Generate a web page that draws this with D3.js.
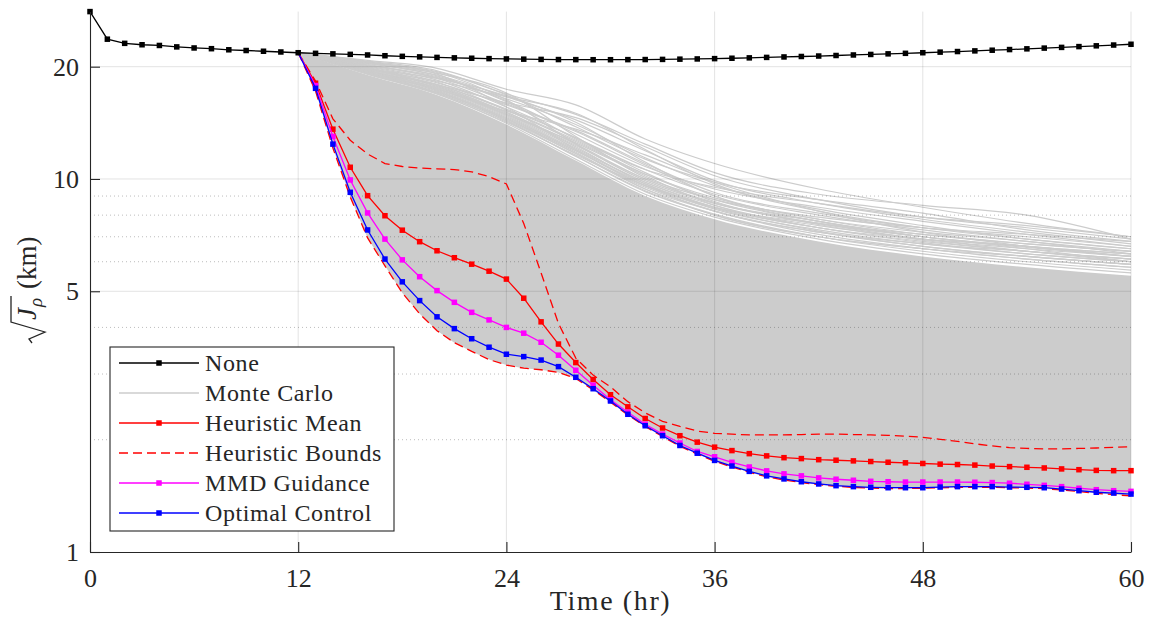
<!DOCTYPE html>
<html>
<head>
<meta charset="utf-8">
<script src="https://cdn.jsdelivr.net/npm/d3@7"></script>
<style>
  body { margin: 0; background: #fff; }
  svg { display: block; }
  svg text { font-family: "Liberation Serif", "DejaVu Serif", "Noto Serif", "Times New Roman", Times, serif; fill: #262626; }
</style>
</head>
<body>
<div id="chart"></div>
<script>
// ---- data ----
const noneHours = d3.range(0, 61);
const noneVals = [28.1, 23.7, 23.1, 22.9, 22.8, 22.6, 22.45, 22.35, 22.2, 22.1, 22.0, 21.9, 21.8,
  21.72, 21.65, 21.58, 21.5, 21.4, 21.32, 21.25, 21.18, 21.12, 21.07, 21.02, 20.98, 20.95, 20.92,
  20.9, 20.89, 20.88, 20.88, 20.89, 20.9, 20.92, 20.95, 20.98, 21.02, 21.07, 21.12, 21.18, 21.24,
  21.3, 21.36, 21.43, 21.5, 21.57, 21.65, 21.72, 21.8, 21.88, 21.96, 22.05, 22.14, 22.23, 22.33,
  22.43, 22.53, 22.64, 22.75, 22.86, 22.97];

const ctlHours = d3.range(12, 61);
const meanVals = [21.8, 18.06, 13.6, 10.75, 9.02, 7.97, 7.29, 6.79, 6.42, 6.15, 5.91, 5.66, 5.39,
  4.79, 4.14, 3.61, 3.22, 2.9, 2.64, 2.45, 2.28, 2.15, 2.05, 1.97, 1.91, 1.87, 1.835, 1.81, 1.79,
  1.78, 1.768, 1.762, 1.755, 1.748, 1.74, 1.734, 1.727, 1.72, 1.716, 1.71, 1.7, 1.694, 1.687, 1.68,
  1.67, 1.662, 1.655, 1.652, 1.652];
const mmdVals = [21.8, 17.8, 13.0, 9.94, 8.11, 6.9, 6.07, 5.47, 5.02, 4.67, 4.39, 4.19, 4.0,
  3.86, 3.65, 3.37, 3.07, 2.8, 2.56, 2.37, 2.2, 2.07, 1.96, 1.86, 1.8, 1.74, 1.69, 1.65, 1.62,
  1.6, 1.58, 1.567, 1.557, 1.547, 1.543, 1.54, 1.54, 1.54, 1.54, 1.538, 1.535, 1.529, 1.519, 1.509,
  1.497, 1.482, 1.469, 1.46, 1.454];
const ocVals = [21.8, 17.5, 12.4, 9.21, 7.3, 6.1, 5.3, 4.72, 4.27, 3.97, 3.73, 3.54, 3.39,
  3.34, 3.27, 3.14, 2.94, 2.74, 2.54, 2.34, 2.18, 2.05, 1.93, 1.84, 1.76, 1.7, 1.645, 1.6, 1.57,
  1.543, 1.522, 1.506, 1.497, 1.491, 1.487, 1.487, 1.487, 1.493, 1.497, 1.497, 1.497, 1.493, 1.491,
  1.487, 1.475, 1.46, 1.446, 1.439, 1.43];
const boundUpper = [21.8, 18.3, 14.5, 12.7, 11.67, 11.0, 10.8, 10.7, 10.65, 10.6, 10.45, 10.15, 9.7,
  7.6, 5.6, 4.1, 3.31, 2.98, 2.77, 2.53, 2.36, 2.24, 2.17, 2.11, 2.08, 2.07, 2.06, 2.06, 2.06,
  2.065, 2.07, 2.07, 2.065, 2.06, 2.055, 2.045, 2.03, 2.005, 1.98, 1.95, 1.925, 1.905, 1.895, 1.89,
  1.89, 1.895, 1.9, 1.908, 1.915];
const boundLower = [21.8, 17.2, 12.1, 8.95, 6.95, 5.85, 4.95, 4.35, 3.92, 3.64, 3.45, 3.28, 3.17,
  3.11, 3.08, 3.03, 2.92, 2.72, 2.52, 2.33, 2.17, 2.04, 1.92, 1.83, 1.75, 1.69, 1.635, 1.59, 1.56,
  1.535, 1.515, 1.5, 1.49, 1.483, 1.48, 1.48, 1.482, 1.486, 1.49, 1.49, 1.49, 1.487, 1.484, 1.478,
  1.467, 1.452, 1.437, 1.425, 1.413];

// Monte Carlo runs, sampled at these hours; mcCore = top of the densely packed runs
const mcHours = [12, 16, 20, 24, 28, 32, 36, 42, 48, 54, 60];
const mcCore = [21.8, 19.0, 16.8, 14.0, 11.2, 9.0, 7.8, 6.8, 6.2, 5.8, 5.5];
const mcRuns = [
  [21.8, 20.8, 19.8, 17.4, 15.8, 12.8, 11.0, 9.4, 8.4, 7.6, 7.0],
  [21.8, 20.6, 19.4, 16.9, 14.9, 12.4, 10.4, 9.1, 8.5, 8.0, 6.9],
  [21.8, 20.7, 19.5, 16.8, 13.8, 11.3, 9.8, 8.8, 8.1, 7.3, 6.8],
  [21.8, 20.4, 19.0, 16.6, 14.4, 11.9, 9.9, 8.6, 7.8, 7.2, 6.7],
  [21.8, 20.5, 18.9, 16.2, 13.2, 10.8, 9.4, 8.4, 7.7, 7.1, 6.6],
  [21.8, 20.2, 18.7, 16.4, 14.0, 11.4, 9.6, 8.3, 7.5, 6.9, 6.5],
  [21.8, 20.3, 18.6, 15.9, 13.5, 11.0, 9.2, 8.1, 7.4, 7.0, 6.6],
  [21.8, 20.1, 18.4, 15.6, 12.9, 10.6, 9.1, 8.0, 7.3, 6.8, 6.4],
  [21.8, 19.9, 18.1, 15.8, 13.4, 10.9, 9.0, 7.8, 7.1, 6.7, 6.4],
  [21.8, 20.0, 18.2, 15.3, 12.6, 10.3, 8.9, 7.8, 7.2, 6.8, 6.3],
  [21.8, 19.8, 17.9, 15.4, 12.9, 10.4, 8.7, 7.6, 7.0, 6.6, 6.3],
  [21.8, 19.7, 17.8, 15.1, 12.3, 10.0, 8.6, 7.6, 6.9, 6.5, 6.2],
  [21.8, 19.9, 17.7, 14.9, 12.5, 10.2, 8.5, 7.4, 6.9, 6.6, 6.2],
  [21.8, 19.6, 17.5, 14.8, 12.0, 9.8, 8.4, 7.4, 6.8, 6.4, 6.1],
  [21.8, 19.5, 17.6, 15.0, 12.2, 9.7, 8.3, 7.3, 6.7, 6.4, 6.1],
  [21.8, 19.4, 17.3, 14.6, 11.9, 9.6, 8.2, 7.2, 6.7, 6.3, 6.0],
  [21.8, 19.6, 17.2, 14.4, 11.7, 9.5, 8.2, 7.2, 6.6, 6.2, 5.9],
  [21.8, 19.3, 17.1, 14.5, 11.8, 9.4, 8.0, 7.0, 6.5, 6.2, 5.9],
  [21.8, 19.2, 17.0, 14.3, 11.5, 9.3, 8.0, 7.0, 6.5, 6.1, 5.8],
  [21.8, 20.4, 19.2, 17.0, 13.0, 10.1, 8.8, 7.9, 7.4, 7.1, 6.8],
  [21.8, 19.5, 17.9, 16.0, 14.6, 12.2, 10.2, 8.8, 7.9, 7.4, 6.9],
  [21.8, 20.6, 19.1, 15.6, 12.0, 9.7, 8.4, 7.6, 7.1, 6.7, 6.4],
  [21.8, 19.7, 18.3, 16.6, 15.0, 12.0, 9.7, 8.2, 7.4, 6.9, 6.5],
  [21.8, 20.2, 18.8, 16.1, 12.8, 10.6, 9.5, 8.6, 7.9, 7.5, 7.0],
  [21.8, 19.3, 17.4, 15.2, 13.6, 11.6, 9.8, 8.2, 7.2, 6.6, 6.2],
  [21.8, 20.5, 19.3, 16.3, 12.4, 9.9, 8.6, 7.7, 7.0, 6.5, 6.0],
  [21.8, 19.8, 18.6, 16.7, 14.2, 11.1, 9.0, 7.7, 7.0, 6.6, 6.3],
  [21.8, 19.1, 16.9, 14.2, 11.6, 9.6, 8.4, 7.5, 6.9, 6.4, 6.0],
  [21.8, 19.1, 16.9, 14.1, 11.3, 9.1, 7.9, 6.9, 6.3, 5.9, 5.6],
  [21.8, 19.2, 17.0, 14.3, 11.5, 9.25, 8.05, 7.0, 6.4, 6.0, 5.7],
  [21.8, 19.3, 17.2, 14.5, 11.7, 9.4, 8.2, 7.1, 6.5, 6.1, 5.8],
  [21.8, 19.4, 17.4, 14.7, 11.9, 9.6, 8.35, 7.25, 6.6, 6.2, 5.9],
  [21.8, 19.5, 17.5, 14.9, 12.1, 9.8, 8.5, 7.4, 6.75, 6.3, 6.0],
  [21.8, 19.6, 17.7, 15.1, 12.4, 10.0, 8.65, 7.55, 6.85, 6.4, 6.1],
  [21.8, 19.7, 17.9, 15.3, 12.7, 10.3, 8.8, 7.7, 7.0, 6.55, 6.2]
];

const xTicks = [0, 12, 24, 36, 48, 60];
const yTicks = [1, 5, 10, 20];
const yMinor = [2, 3, 4, 6, 7, 8, 9];

const legendNames = ["None", "Monte Carlo", "Heuristic Mean", "Heuristic Bounds", "MMD Guidance", "Optimal Control"];

// ---- layout ----
const CONFIGS = {
  width: 1153,
  height: 630,
  left: 90,
  right: 1131,
  top: 11.6,
  bottom: 552,
  ink: "#262626",
  mc: "#cccccc",
  lw: 1.3,
  marker: 5.5,
  legend: { x: 110, y: 347, w: 284, h: 184, row: 30, first: 363 }
};

const svg = d3.select("#chart").append("svg")
  .attr("width", CONFIGS.width)
  .attr("height", CONFIGS.height)
  .attr("viewBox", [0, 0, CONFIGS.width, CONFIGS.height]);

const x = d3.scaleLinear().domain([0, 60]).range([CONFIGS.left, CONFIGS.right]);
const y = d3.scaleLog().domain([1, d3.max(noneVals)]).range([CONFIGS.bottom, CONFIGS.top]);

const series = (hours, vals) => hours.map((h, i) => [h, vals[i]]);
const line = d3.line().x(d => x(d[0])).y(d => y(d[1]));
const smooth = d3.line().x(d => x(d[0])).y(d => y(d[1])).curve(d3.curveMonotoneX);

// ---- Monte Carlo ----
const mc = svg.append("g");
const coreTop = smooth(series(mcHours, mcCore));
const coreBot = line(series(ctlHours, boundLower).reverse());
mc.append("path")
  .attr("d", coreTop + coreBot.replace(/^M/, "L") + "Z")
  .attr("fill", CONFIGS.mc);
mc.selectAll("path.run")
  .data(mcRuns)
  .join("path")
  .attr("class", "run")
  .attr("d", d => smooth(series(mcHours, d)))
  .attr("fill", "none")
  .attr("stroke", CONFIGS.mc)
  .attr("stroke-width", 1.2);

// ---- grid (drawn translucent over the runs, like the original) ----
const grid = svg.append("g").attr("stroke", CONFIGS.ink);
grid.selectAll("line.gx")
  .data(xTicks.slice(1))
  .join("line")
  .attr("x1", d => x(d)).attr("x2", d => x(d))
  .attr("y1", CONFIGS.bottom).attr("y2", CONFIGS.top)
  .attr("stroke-opacity", 0.13);
grid.selectAll("line.gy")
  .data(yTicks.slice(1))
  .join("line")
  .attr("x1", CONFIGS.left).attr("x2", CONFIGS.right)
  .attr("y1", d => y(d)).attr("y2", d => y(d))
  .attr("stroke-opacity", 0.13);
grid.selectAll("line.gm")
  .data(yMinor)
  .join("line")
  .attr("x1", CONFIGS.left).attr("x2", CONFIGS.right)
  .attr("y1", d => y(d)).attr("y2", d => y(d))
  .attr("stroke-opacity", 0.3)
  .attr("stroke-dasharray", "1,3");

// ---- heuristic bounds ----
[boundUpper, boundLower].forEach(vals => {
  svg.append("path")
    .attr("d", line(series(ctlHours, vals)))
    .attr("fill", "none")
    .attr("stroke", "#ff0000")
    .attr("stroke-width", CONFIGS.lw)
    .attr("stroke-dasharray", "9,5");
});

// ---- marked series ----
const drawMarked = (hours, vals, color, skipFirst) => {
  const data = series(hours, vals);
  const g = svg.append("g");
  g.append("path")
    .attr("d", line(data))
    .attr("fill", "none")
    .attr("stroke", color)
    .attr("stroke-width", CONFIGS.lw);
  g.selectAll("rect")
    .data(skipFirst ? data.slice(1) : data)
    .join("rect")
    .attr("x", d => x(d[0]) - CONFIGS.marker / 2)
    .attr("y", d => y(d[1]) - CONFIGS.marker / 2)
    .attr("width", CONFIGS.marker)
    .attr("height", CONFIGS.marker)
    .attr("fill", color);
};
drawMarked(ctlHours, meanVals, "#ff0000", true);
drawMarked(ctlHours, mmdVals, "#ff00ff", true);
drawMarked(ctlHours, ocVals, "#0000ff", true);
drawMarked(noneHours, noneVals, "#000000", false);

// ---- axes ----
const xAxis = svg.append("g")
  .attr("transform", `translate(0,${CONFIGS.bottom})`)
  .call(d3.axisBottom(x).tickValues(xTicks).tickSizeInner(-10).tickSizeOuter(0).tickPadding(17));
const yAxis = svg.append("g")
  .attr("transform", `translate(${CONFIGS.left},0)`)
  .call(d3.axisLeft(y).tickValues(yTicks).tickFormat(d3.format("d")).tickSizeInner(-10).tickSizeOuter(0).tickPadding(11));
[xAxis, yAxis].forEach(a => {
  a.attr("font-family", null);
  a.select(".domain").attr("stroke", CONFIGS.ink).attr("stroke-width", 1.1);
  a.selectAll(".tick line").attr("stroke", CONFIGS.ink).attr("stroke-width", 1.1);
  a.selectAll(".tick text")
    .attr("fill", CONFIGS.ink)
    .attr("font-size", 26);
});

svg.append("text")
  .attr("x", (CONFIGS.left + CONFIGS.right) / 2)
  .attr("y", 610)
  .attr("text-anchor", "middle")
  .attr("font-size", 28)
  .attr("letter-spacing", 1.6)
  .text("Time (hr)");

// y label: sqrt(J_rho) (km), radical drawn as a path
const yl = svg.append("g").attr("transform", "translate(36,343) rotate(-90)");
const jt = yl.append("text").attr("x", 23).attr("font-size", 27).attr("font-style", "italic").text("J");
const jw = jt.node().getComputedTextLength();
const rt = yl.append("text").attr("x", 23 + jw + 1).attr("y", 6).attr("font-size", 19).attr("font-style", "italic").text("ρ");
const bar = 23 + jw + 1 + rt.node().getComputedTextLength() + 2;
yl.append("path")
  .attr("d", `M0,-4 L4,-7 L11,9 L21,-25 H${bar}`)
  .attr("fill", "none")
  .attr("stroke", CONFIGS.ink)
  .attr("stroke-width", 1.3);
yl.append("text").attr("x", bar + 7).attr("font-size", 27).text("(km)");

// ---- legend ----
const L = CONFIGS.legend;
const leg = svg.append("g");
leg.append("rect")
  .attr("x", L.x).attr("y", L.y).attr("width", L.w).attr("height", L.h)
  .attr("fill", "#fff").attr("stroke", CONFIGS.ink).attr("stroke-width", 1.1);
const legStyle = [
  { color: "#000000", marker: true },
  { color: CONFIGS.mc, marker: false },
  { color: "#ff0000", marker: true },
  { color: "#ff0000", marker: false, dash: "9,5" },
  { color: "#ff00ff", marker: true },
  { color: "#0000ff", marker: true }
];
legendNames.forEach((name, i) => {
  const cy = L.first + i * L.row;
  const s = legStyle[i];
  leg.append("line")
    .attr("x1", 119).attr("x2", 199).attr("y1", cy).attr("y2", cy)
    .attr("stroke", s.color).attr("stroke-width", CONFIGS.lw)
    .attr("stroke-dasharray", s.dash || null);
  if (s.marker) {
    leg.append("rect")
      .attr("x", 159 - CONFIGS.marker / 2).attr("y", cy - CONFIGS.marker / 2)
      .attr("width", CONFIGS.marker).attr("height", CONFIGS.marker)
      .attr("fill", s.color);
  }
  leg.append("text")
    .attr("x", 205).attr("y", cy + 8)
    .attr("font-size", 24)
    .attr("letter-spacing", 0.6)
    .attr("fill", "#000")
    .text(name);
});
</script>
</body>
</html>
